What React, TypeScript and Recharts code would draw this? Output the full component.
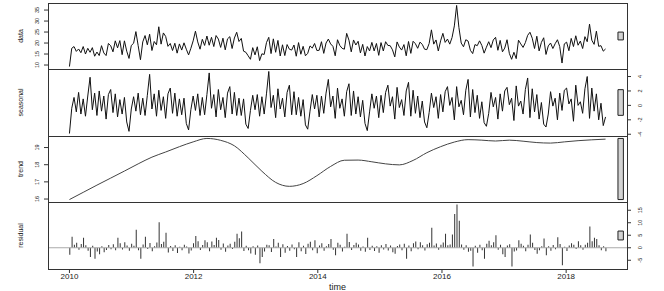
import { Bar, ComposedChart, Line, ReferenceArea, ReferenceLine, XAxis, YAxis } from 'recharts'

// series sampled about every two weeks, 2010.0 .. 2018.64
const START = 2010
const PER_YEAR = 27.1

const yearTicks = [2010, 2012, 2014, 2016, 2018]
const dataTicks = [10, 15, 20, 25, 30, 35]
const seasonalTicks = [-4, -2, 0, 2, 4]
const trendTicks = [16, 17, 18, 19]
const remainderTicks = [-5, 0, 5, 10, 15]

const observed = [
  9.3, 17.6, 18.4, 16.2, 17.3, 15.6, 18.4, 15.0, 17.6, 15.8, 17.9, 14.0, 15.9, 14.3, 18.8, 15.5, 14.3, 19.8, 18.8, 16.0, 21.0, 17.8, 21.1, 14.7, 21.0, 16.3,
  13.0, 18.9, 19.9, 25.2, 18.8, 12.4, 20.5, 23.4, 19.2, 24.0, 16.6, 20.7, 19.2, 27.4, 19.5, 24.6, 23.0, 18.5, 19.8, 16.6, 19.9, 15.4, 19.6, 16.8, 20.1, 17.2,
  14.6, 17.6, 21.0, 25.4, 20.5, 17.2, 21.7, 18.9, 23.2, 19.0, 22.6, 18.4, 23.4, 21.8, 18.0, 22.2, 16.9, 21.9, 22.9, 17.5, 22.3, 24.9, 20.7, 22.1, 16.3, 15.8,
  14.2, 12.6, 17.9, 14.6, 18.3, 12.0, 15.1, 14.8, 20.2, 22.6, 15.2, 21.9, 15.8, 21.2, 14.1, 19.2, 14.3, 19.3, 17.2, 16.8, 19.1, 14.0, 20.2, 14.9, 18.5, 14.2,
  15.3, 18.7, 17.7, 19.8, 16.6, 16.7, 20.6, 15.3, 20.0, 21.8, 19.6, 18.5, 14.2, 21.5, 18.9, 17.6, 17.2, 24.4, 21.3, 16.0, 21.4, 19.1, 20.8, 15.5, 19.4, 14.1,
  18.4, 16.4, 20.3, 16.4, 19.8, 14.4, 20.2, 16.4, 20.6, 18.9, 18.8, 16.9, 13.7, 20.5, 18.2, 16.8, 19.3, 14.2, 20.7, 15.3, 20.8, 19.7, 17.6, 20.4, 19.4, 17.2,
  17.0, 19.8, 26.0, 19.5, 21.4, 16.4, 21.0, 24.4, 20.3, 21.8, 19.5, 22.5, 27.8, 37.1, 27.0, 20.0, 18.3, 21.5, 20.9, 16.7, 15.2, 19.3, 18.8, 21.0, 18.9, 15.4,
  18.1, 20.6, 17.9, 21.4, 22.6, 16.7, 21.2, 16.0, 17.7, 21.5, 15.3, 12.6, 15.8, 12.9, 21.3, 19.6, 18.0, 20.2, 23.5, 24.9, 22.2, 17.5, 23.1, 16.4, 20.3, 22.4,
  14.8, 18.7, 20.0, 17.5, 19.7, 21.5, 18.4, 10.9, 19.6, 20.4, 16.5, 22.1, 18.4, 23.3, 19.0, 20.9, 17.5, 22.9, 20.6, 28.6, 21.3, 19.4, 25.4, 18.5, 18.8, 16.3, 17.3,
]

const seasonal = [
  -3.9, -0.4, 1.1, -0.9, 1.8, -1.2, 0.9, -1.5, 1.3, 3.9, -0.6, 1.7, -1.4, 2.0, -0.8, 1.3, -1.9, 1.5, 2.2, -1.0, 1.6, -1.6, 0.8, -1.2, 1.1, -2.3,
  -3.6, -0.5, 1.2, -0.8, 1.7, -1.3, 1.0, -1.4, 1.4, 4.3, -0.5, 1.6, -1.5, 2.1, -0.7, 1.2, -1.8, 1.6, 2.4, -1.1, 1.7, -1.5, 0.9, -1.3, 1.0, -2.5,
  -3.4, -0.6, 1.3, -0.7, 1.6, -1.4, 1.1, -1.3, 1.5, 4.5, -0.4, 1.5, -1.6, 2.2, -0.6, 1.1, -1.7, 1.7, 2.6, -1.2, 1.8, -1.4, 1.0, -1.4, 0.9, -2.6,
  -3.2, -0.7, 1.4, -0.6, 1.5, -1.5, 1.2, -1.2, 1.6, 4.7, -0.3, 1.4, -1.7, 2.3, -0.5, 1.0, -1.6, 1.8, 2.8, -1.3, 1.9, -1.3, 1.1, -1.5, 0.8, -2.7,
  -3.3, -0.8, 1.5, -0.5, 1.4, -1.6, 1.3, -1.1, 1.7, 3.6, -0.2, 1.3, -1.8, 2.4, -0.4, 0.9, -1.5, 1.9, 3.0, -1.4, 2.0, -1.2, 1.2, -1.6, 0.7, -2.5,
  -3.5, -0.9, 1.6, -0.4, 1.3, -1.7, 1.4, -1.0, 1.8, 2.8, -0.1, 1.2, -1.9, 2.5, -0.3, 0.8, -1.4, 2.0, 3.2, -1.5, 2.1, -1.1, 1.3, -1.7, 0.6, -2.3,
  -3.1, -1.0, 1.7, -0.3, 1.2, -1.8, 1.5, -0.9, 1.9, 2.6, 0.0, 1.1, -2.0, 2.6, -0.2, 0.7, -1.3, 2.1, 3.6, -1.6, 2.2, -1.0, 1.4, -1.8, 0.5, -2.4,
  -2.9, -1.1, 1.8, -0.2, 1.1, -1.9, 1.6, -0.8, 2.0, 2.5, 0.1, 1.0, -2.1, 2.7, -0.1, 0.6, -1.2, 2.2, 3.8, -1.7, 2.3, -0.9, 1.5, -1.9, 0.4, -2.6,
  -3.0, -1.2, 1.9, -0.1, 1.0, -2.0, 1.7, -0.7, 2.1, 2.4, 0.2, 0.9, -2.2, 2.8, 0.0, 0.5, -1.1, 2.3, 4.0, -1.8, 2.4, -0.8, 1.6, -2.0, 0.3, -2.8,
  -1.6,
]

// trend, one value every 6 steps
const TREND_STEP = 6
const trend = [
  15.97, 16.39, 16.81, 17.22, 17.63, 18.05, 18.44, 18.74, 19.05, 19.33,
  19.53, 19.42, 19.1, 18.4, 17.62, 16.97, 16.74, 16.9, 17.36, 17.9,
  18.26, 18.27, 18.17, 18.05, 17.99, 18.25, 18.7, 19.05, 19.32, 19.46,
  19.43, 19.38, 19.43, 19.37, 19.29, 19.26, 19.33, 19.4, 19.45, 19.49,
]

const remainder = [
  -2.8, 4.4, 1.2, 2.0, -0.8, 1.5, 4.0, 1.0, -1.2, -3.7, 0.8, -4.4, -1.5, -2.6, 0.6, -1.8, -0.9, 1.1, -0.6, 1.4, -1.0, 4.0, 1.8, -0.7, 2.2, 0.9,
  -1.2, 1.6, 0.8, 7.2, -1.0, -4.4, 1.3, 4.4, -0.5, 1.9, -1.4, 0.6, 2.1, 10.2, 1.5, 2.4, 6.0, -1.9, 0.7, -1.3, 1.0, -2.1, 0.4, -1.0, 1.2, 0.5,
  -2.3, -1.1, 1.8, 4.7, 2.6, -0.9, 1.1, 3.0, 2.2, -1.4, 2.5, 1.1, 4.0, 3.1, -0.8, 1.7, -1.6, 0.9, 1.6, -0.5, 2.4, 5.6, 3.8, 6.5, -1.3, 0.8,
  -1.0, -2.3, 0.6, -2.8, 0.9, -6.2, -3.7, -1.5, 1.2, 1.0, -1.7, 3.5, 0.5, 2.0, -3.7, 1.4, -2.0, 0.7, -1.2, 1.3, -0.6, -3.7, 2.2, -1.4, 0.8, -2.5,
  1.6, 2.4, -1.0, 3.0, -2.2, 0.9, 1.8, -1.2, 0.6, 1.5, 3.5, -0.8, -3.0, 2.0, 1.2, -1.5, 0.4, 5.6, 2.3, -0.9, 1.1, 2.0, 1.3, -1.2, 0.5, -1.6,
  4.0, -0.9, 0.8, -1.3, 0.6, -2.0, 1.0, -0.7, 1.5, -1.1, 0.9, -1.8, -2.4, 0.7, 1.3, -1.0, 1.6, -4.4, 0.9, -1.4, 1.8, 2.5, -0.6, 2.2, 1.0, -1.1,
  1.4, 2.0, 8.0, 0.9, 1.7, -0.8, 1.2, 2.1, 5.6, 1.0, 1.3, 5.3, 13.5, 17.3, 10.8, 1.3, -0.8, 1.0, -1.6, -1.2, -7.5, 0.8, -2.0, 1.2, -1.0, -4.4,
  1.6, 2.8, 1.0, 2.2, 5.0, -0.8, 1.2, -2.6, -3.7, 0.9, 1.4, -7.5, -1.5, -1.1, 3.0, 1.6, 0.8, -1.4, 1.2, 5.3, 2.0, -0.9, -2.4, -1.0, 0.6, 3.7,
  -3.0, 0.6, -1.2, 1.1, -0.6, 4.2, 1.5, -7.0, 0.4, -1.3, 0.9, 1.8, 1.2, -0.5, 2.6, 1.0, -0.8, 1.2, 2.0, 8.5, 2.6, 4.0, 3.5, 1.0, -1.0, 0.6,
  -1.4,
]

const rows = observed.map((v, i) => ({
  t: START + i / PER_YEAR,
  data: v,
  seasonal: seasonal[i],
  remainder: remainder[i],
}))
const trendRows = trend.map((v, k) => ({ t: START + (k * TREND_STEP) / PER_YEAR, trend: v }))

const W = 664
const H = 291
const LEFT = 48
const RIGHT = 627
const TICK = 4
const FONT = '"Liberation Sans", Arial, Helvetica, sans-serif'

function span(a: number[]) {
  return [Math.min(...a), Math.max(...a)]
}
function padded(a: number[]): [number, number] {
  const [lo, hi] = span(a)
  const d = (hi - lo) * 0.04
  return [lo - d, hi + d]
}

// R-style 4% padding on time, range bars in the right margin
const tEnd = START + (observed.length - 1) / PER_YEAR
const xPad = (tEnd - START) * 0.04
const xDomain: [number, number] = [START - xPad, tEnd + xPad]
const dx = (xDomain[1] - xDomain[0]) / 64
const barLen = Math.min(...[observed, seasonal, trend, remainder].map((a) => span(a)[1] - span(a)[0]))
function rangeBar(a: number[]): [number, number] {
  const [lo, hi] = span(a)
  const mid = (lo + hi) / 2
  return [mid - barLen / 2, mid + barLen / 2]
}

const yTick = (p: any) => (
  <text
    transform={`translate(${p.x},${p.y}) rotate(-90)`}
    textAnchor="middle"
    dominantBaseline="central"
    fontSize={5.5}
    fill="#222"
  >
    {p.payload.value}
  </text>
)

const xTick = (p: any) => (
  <text x={p.x} y={p.y} dy={6} textAnchor="middle" fontSize={8} fill="#222">
    {p.payload.value}
  </text>
)

interface PanelProps {
  top: number
  bottom: number
  side: 'left' | 'right'
  ticks: number[]
  domain: [number, number]
  data: any[]
  bar: [number, number]
  last?: boolean
  children: any
}

function Panel({ top, bottom, side, ticks, domain, data, bar, last, children }: PanelProps) {
  const pad = 2
  const xH = last ? 22 : TICK
  return (
    <div style={{ position: 'absolute', left: 0, top: top - pad }}>
      <ComposedChart
        width={W}
        height={pad + bottom - top + xH}
        data={data}
        margin={{ top: pad, right: W - RIGHT - 30, bottom: 0, left: LEFT - 28 }}
      >
        <XAxis
          dataKey="t"
          type="number"
          domain={xDomain}
          ticks={yearTicks}
          interval={0}
          allowDataOverflow
          axisLine={false}
          tickSize={TICK}
          tickMargin={0}
          tickLine={{ stroke: '#333' }}
          height={xH}
          tick={last ? xTick : false}
          label={last ? { value: 'time', position: 'insideBottom', offset: 1, fontSize: 9, fill: '#222' } : undefined}
        />
        <YAxis
          yAxisId="l"
          orientation="left"
          width={28}
          type="number"
          domain={domain}
          ticks={ticks}
          interval={0}
          allowDataOverflow
          axisLine={false}
          tickSize={TICK}
          tickMargin={7.4}
          tickLine={{ stroke: '#333' }}
          tick={side === 'left' ? yTick : false}
        />
        <YAxis
          yAxisId="r"
          orientation="right"
          width={30}
          type="number"
          domain={domain}
          ticks={ticks}
          interval={0}
          allowDataOverflow
          axisLine={false}
          tickSize={TICK}
          tickMargin={8.5}
          tickLine={{ stroke: '#333' }}
          tick={side === 'right' ? yTick : false}
        />
        <ReferenceArea
          yAxisId="l"
          x1={xDomain[1] - dx}
          x2={xDomain[1] - 0.4 * dx}
          y1={bar[0]}
          y2={bar[1]}
          fill="#d3d3d3"
          fillOpacity={1}
          stroke="#222"
          strokeWidth={1}
          ifOverflow="visible"
        />
        {children}
      </ComposedChart>
    </div>
  )
}

const panels = [
  { title: 'data', top: 3, bottom: 69 },
  { title: 'seasonal', top: 69, bottom: 136 },
  { title: 'trend', top: 136, bottom: 202 },
  { title: 'residual', top: 202, bottom: 269 },
]

export default function App() {
  return (
    <div style={{ position: 'absolute', left: 0, top: 0, width: W, height: H, background: '#fff', fontFamily: FONT }}>
      <Panel top={3} bottom={69} side="left" ticks={dataTicks} domain={padded(observed)} data={rows} bar={rangeBar(observed)}>
        <Line yAxisId="l" type="linear" dataKey="data" stroke="#111" strokeWidth={1} dot={false} isAnimationActive={false} />
      </Panel>
      <Panel top={69} bottom={136} side="right" ticks={seasonalTicks} domain={padded(seasonal)} data={rows} bar={rangeBar(seasonal)}>
        <Line yAxisId="l" type="linear" dataKey="seasonal" stroke="#111" strokeWidth={1} dot={false} isAnimationActive={false} />
      </Panel>
      <Panel top={136} bottom={202} side="left" ticks={trendTicks} domain={padded(trend)} data={trendRows} bar={rangeBar(trend)}>
        <Line yAxisId="l" type="monotone" dataKey="trend" stroke="#444" strokeWidth={1} dot={false} isAnimationActive={false} />
      </Panel>
      <Panel top={202} bottom={269} side="right" ticks={remainderTicks} domain={padded(remainder)} data={rows} bar={rangeBar(remainder)} last>
        <ReferenceLine yAxisId="l" y={0} stroke="#aaa" strokeWidth={1} />
        <Bar yAxisId="l" dataKey="remainder" fill="#333" barSize={1} isAnimationActive={false} />
      </Panel>
      <svg width={W} height={H} style={{ position: 'absolute', left: 0, top: 0, pointerEvents: 'none' }}>
        {panels.map((p) => (
          <rect key={p.title} x={LEFT + 0.5} y={p.top + 0.5} width={RIGHT - LEFT} height={p.bottom - p.top} fill="none" stroke="#333" />
        ))}
        {panels.map((p) => (
          <text
            key={p.title + '-t'}
            transform={`translate(20,${(p.top + p.bottom) / 2}) rotate(-90)`}
            textAnchor="middle"
            dominantBaseline="central"
            fontSize={7}
            fill="#222"
          >
            {p.title}
          </text>
        ))}
      </svg>
    </div>
  )
}
